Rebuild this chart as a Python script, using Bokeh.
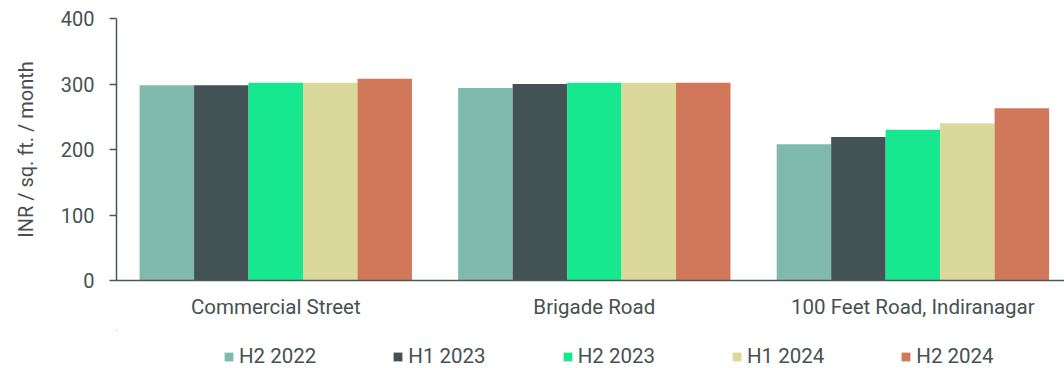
from bokeh.plotting import figure
from bokeh.layouts import column
from bokeh.models import Range1d, FixedTicker, Legend, LegendItem, ColumnDataSource
from bokeh.embed import file_html
from bokeh.resources import INLINE

categories = ["Commercial Street", "Brigade Road", "100 Feet Road, Indiranagar"]
series = ["H2 2022", "H1 2023", "H2 2023", "H1 2024", "H2 2024"]
values = {
    "H2 2022": [298, 294, 208],
    "H1 2023": [298, 300, 219],
    "H2 2023": [302, 302, 230],
    "H1 2024": [302, 302, 240],
    "H2 2024": [308, 302, 263],
}
colors = ["#80BAAC", "#435254", "#17E88F", "#DBD99A", "#D2785A"]
y_ticks = [0, 100, 200, 300, 400]

FONT = "Roboto"
TXT = "#46514f"
AX = "#4a5757"

p = figure(frame_width=948, frame_height=262, output_backend="svg", toolbar_location=None,
           x_range=Range1d(0, 2.976), y_range=Range1d(0, 400),
           min_border_left=116, min_border_right=0, min_border_top=18, min_border_bottom=50)
p.outline_line_color = None
p.grid.grid_line_color = None

bar_w = 0.171
centers = [i + 0.5 for i in range(len(categories))]
sources = []
for j, s in enumerate(series):
    off = (j - 2) * bar_w
    src = ColumnDataSource(dict(x=[c + off for c in centers], top=values[s]))
    sources.append(src)
    p.vbar(x="x", top="top", width=bar_w, bottom=0, source=src,
           fill_color=colors[j], line_color=None)

p.xaxis.ticker = FixedTicker(ticks=centers)
p.xaxis.major_label_overrides = {c: lab for c, lab in zip(centers, categories)}
p.xaxis.major_tick_line_color = None
p.xaxis.minor_tick_line_color = None
p.xaxis.axis_line_color = AX
p.xaxis.axis_line_width = 1.5
p.xaxis.major_label_text_font = FONT
p.xaxis.major_label_text_font_size = "20.5px"
p.xaxis.major_label_text_color = TXT
p.xaxis.major_label_standoff = 8

p.yaxis.ticker = FixedTicker(ticks=y_ticks)
p.yaxis.minor_tick_line_color = None
p.yaxis.major_tick_out = 7
p.yaxis.major_tick_in = 0
p.yaxis.major_tick_line_color = AX
p.yaxis.major_tick_line_width = 1.5
p.yaxis.axis_line_color = AX
p.yaxis.axis_line_width = 1.5
p.yaxis.major_label_text_font = FONT
p.yaxis.major_label_text_font_size = "20px"
p.yaxis.major_label_text_color = TXT
p.yaxis.major_label_standoff = 15
p.yaxis.axis_label = "INR / sq. ft. / month"
p.yaxis.axis_label_text_font = FONT
p.yaxis.axis_label_text_font_size = "20px"
p.yaxis.axis_label_text_font_style = "normal"
p.yaxis.axis_label_text_color = TXT
p.yaxis.axis_label_standoff = 20

# legend strip (its bars lie outside this strip's ranges; only the legend swatches show)
p2 = figure(width=1064, height=38, output_backend="svg", toolbar_location=None,
            x_axis_type=None, y_axis_type=None,
            x_range=Range1d(100, 101), y_range=Range1d(-2, -1),
            min_border=0)
p2.outline_line_color = None
p2.grid.grid_line_color = None
items = []
for j, s in enumerate(series):
    r = p2.vbar(x="x", top="top", width=bar_w, bottom=0, source=sources[j],
                fill_color=colors[j], line_color=None)
    items.append(LegendItem(label=s, renderers=[r]))
legend = Legend(items=items, orientation="horizontal", location=(107, 0),
                label_text_font=FONT, label_text_font_size="20.5px",
                label_text_color=TXT, glyph_width=11, glyph_height=11,
                label_standoff=5, spacing=76, border_line_color=None,
                background_fill_alpha=0, padding=0, margin=0)
p2.add_layout(legend, "center")

layout = column(p, p2, spacing=0)
open("out.html", "w").write(file_html(layout, INLINE))
